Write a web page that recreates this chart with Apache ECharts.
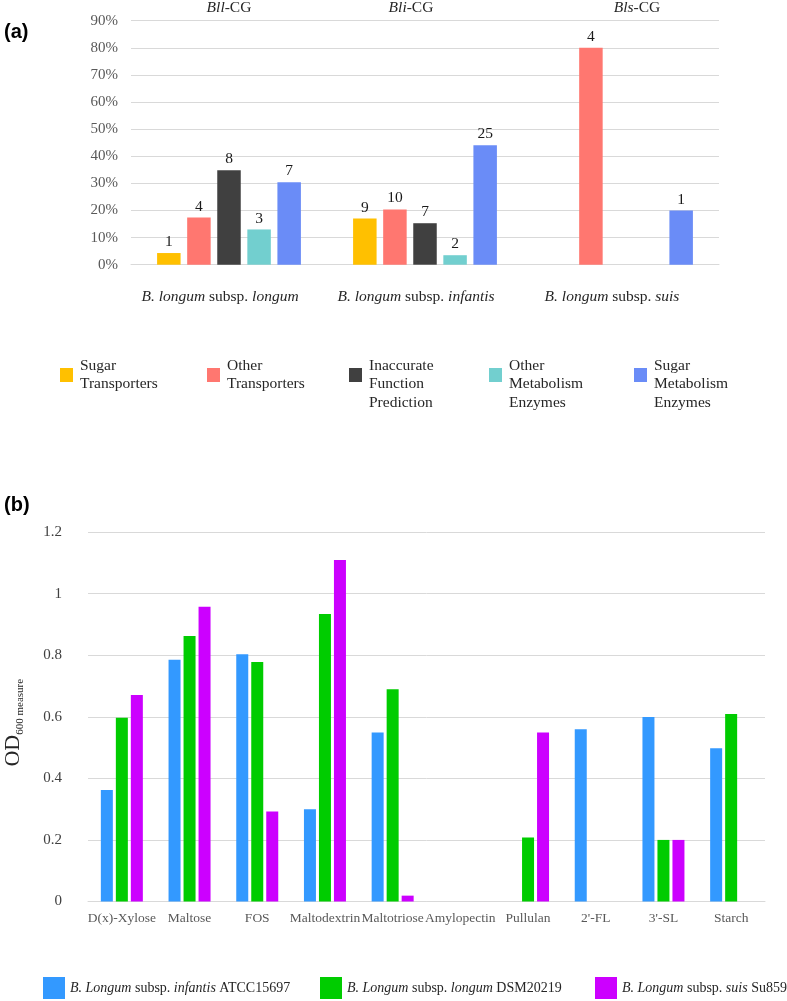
<!DOCTYPE html>
<html>
<head>
<meta charset="utf-8">
<script src="https://cdn.jsdelivr.net/npm/echarts@6/dist/echarts.min.js"></script>
<style>
html,body{margin:0;padding:0;background:#fff;}
#chart{width:787px;height:1001px;}
</style>
</head>
<body>
<div id="chart"></div>
<script>
// ---------- Panel (a) data ----------
const categoriesA = ['B. longum subsp. longum', 'B. longum subsp. infantis', 'B. longum subsp. suis'];
const topLabelsA = ['Bll-CG', 'Bli-CG', 'Bls-CG'];
const seriesNamesA = ['Sugar Transporters', 'Other Transporters', 'Inaccurate Function Prediction', 'Other Metabolism Enzymes', 'Sugar Metabolism Enzymes'];
const sugarTransportersPct = [4.3, 17.0, null];
const otherTransportersPct = [17.4, 20.4, 80.0];
const inaccuratePct = [34.8, 15.3, null];
const otherMetabolismPct = [13.0, 3.5, null];
const sugarMetabolismPct = [30.4, 44.1, 20.0];
const sugarTransportersCount = [1, 9, null];
const otherTransportersCount = [4, 10, 4];
const inaccurateCount = [8, 7, null];
const otherMetabolismCount = [3, 2, null];
const sugarMetabolismCount = [7, 25, 1];
const yTicksA = [0, 10, 20, 30, 40, 50, 60, 70, 80, 90];

// ---------- Panel (b) data ----------
const categoriesB = ['D(x)-Xylose', 'Maltose', 'FOS', 'Maltodextrin', 'Maltotriose', 'Amylopectin', 'Pullulan', "2'-FL", "3'-SL", 'Starch'];
const seriesNamesB = ['B. Longum subsp. infantis ATCC15697', 'B. Longum subsp. longum DSM20219', 'B. Longum subsp. suis Su859'];
const infantisOD = [0.362, 0.785, 0.803, 0.300, 0.549, null, null, 0.559, 0.599, 0.498];
const longumOD = [0.597, 0.862, 0.778, 0.934, 0.689, null, 0.208, null, 0.200, 0.609];
const suisOD = [0.671, 0.957, 0.292, 1.109, 0.019, null, 0.549, null, 0.200, null];
const yTicksB = [0, 0.2, 0.4, 0.6, 0.8, 1, 1.2];

// ---------- styling ----------
const SERIF = 'Liberation Serif';
const colorsA = ['#FFC000', '#FF7770', '#404040', '#72CFCF', '#6A8CF7'];
const colorsB = ['#3399FF', '#00CC00', '#CC00FF'];
const GRID_COLOR = '#d9d9d9';

const pctA = [sugarTransportersPct, otherTransportersPct, inaccuratePct, otherMetabolismPct, sugarMetabolismPct];
const cntA = [sugarTransportersCount, otherTransportersCount, inaccurateCount, otherMetabolismCount, sugarMetabolismCount];
const odB = [infantisOD, longumOD, suisOD];

const legendTextA = {
  'Sugar Transporters': 'Sugar\nTransporters',
  'Other Transporters': 'Other\nTransporters',
  'Inaccurate Function Prediction': '\nInaccurate\nFunction\nPrediction',
  'Other Metabolism Enzymes': '\nOther\nMetabolism\nEnzymes',
  'Sugar Metabolism Enzymes': '\nSugar\nMetabolism\nEnzymes'
};
const legendLeftA = [60, 207, 349, 489, 634];
const legendLeftB = [43, 320, 595];

function richSpecies(s) {
  return s.replace(/^(B\. [Ll]ongum) subsp\. (\w+)(.*)$/, '{i|$1}{n| subsp. }{i|$2}{n|$3}');
}

const legends = [];
seriesNamesA.forEach((nm, k) => {
  const multi = legendTextA[nm].startsWith('\n');
  legends.push({
    data: [nm], left: legendLeftA[k], top: multi ? 338 : 356.5,
    padding: 0, icon: 'rect', itemWidth: 13, itemHeight: 14,
    selectedMode: false,
    formatter: n => legendTextA[n],
    textStyle: { fontFamily: SERIF, fontSize: 15.5, lineHeight: 18.5, color: '#262626', padding: [0, 0, 0, 2] }
  });
});
seriesNamesB.forEach((nm, k) => {
  legends.push({
    data: [nm], left: legendLeftB[k], top: 977,
    padding: 0, icon: 'rect', itemWidth: 22, itemHeight: 22,
    selectedMode: false,
    formatter: n => richSpecies(n),
    textStyle: {
      fontFamily: SERIF, fontSize: 14, color: '#262626',
      rich: {
        i: { fontFamily: SERIF, fontSize: 14, fontStyle: 'italic', color: '#262626' },
        n: { fontFamily: SERIF, fontSize: 14, color: '#262626' }
      }
    }
  });
});

const series = [];
seriesNamesA.forEach((nm, k) => {
  series.push({
    name: nm, type: 'bar', xAxisIndex: 0, yAxisIndex: 0,
    data: pctA[k], barWidth: 23.5, barGap: '28%',
    itemStyle: { color: colorsA[k] },
    label: {
      show: true, position: 'top', distance: 3,
      fontFamily: SERIF, fontSize: 15.5, color: '#1a1a1a',
      formatter: p => (cntA[k][p.dataIndex] == null ? '' : String(cntA[k][p.dataIndex]))
    }
  });
});
seriesNamesB.forEach((nm, k) => {
  series.push({
    name: nm, type: 'bar', xAxisIndex: 2, yAxisIndex: 1,
    data: odB[k], barWidth: 12, barGap: '25%',
    itemStyle: { color: colorsB[k] }
  });
});

const topShift = ['', '', '{l32|}'];

const option = {
  backgroundColor: '#ffffff',
  animation: false,
  title: [
    { text: '(a)', left: 4, top: 22, padding: 0,
      textStyle: { fontFamily: 'Liberation Sans', fontWeight: 'bold', fontSize: 20, color: '#000' } },
    { text: '(b)', left: 4, top: 495, padding: 0,
      textStyle: { fontFamily: 'Liberation Sans', fontWeight: 'bold', fontSize: 20, color: '#000' } }
  ],
  legend: legends,
  grid: [
    { left: 131, right: 68, top: 20.7, height: 244, containLabel: false, outerBoundsMode: 'none' },
    { left: 88, right: 22, top: 532, bottom: 99.5, containLabel: false, outerBoundsMode: 'none' }
  ],
  xAxis: [
    {
      type: 'category', gridIndex: 0, data: categoriesA, position: 'bottom',
      axisLine: { show: true, lineStyle: { color: GRID_COLOR } },
      axisTick: { show: false },
      axisLabel: {
        margin: 24, padding: [0, 18, 0, 0], interval: 0,
        formatter: v => richSpecies(v),
        fontFamily: SERIF, fontSize: 15.5, color: '#262626',
        rich: {
          i: { fontFamily: SERIF, fontSize: 15.5, fontStyle: 'italic', color: '#262626' },
          n: { fontFamily: SERIF, fontSize: 15.5, color: '#262626' }
        }
      }
    },
    {
      type: 'category', gridIndex: 0, data: topLabelsA, position: 'top',
      axisLine: { show: false }, axisTick: { show: false },
      axisLabel: {
        margin: 5, interval: 0,
        formatter: (v, i) => topShift[i] + '{i|' + v.split('-')[0] + '}{n|-' + v.split('-')[1] + '}' + (i === 1 ? '{w28|}' : ''),
        fontFamily: SERIF, fontSize: 15.5, color: '#262626',
        rich: {
          i: { fontFamily: SERIF, fontSize: 15.5, fontStyle: 'italic', color: '#262626' },
          n: { fontFamily: SERIF, fontSize: 15.5, color: '#262626' },
          w28: { width: 28 },
          l32: { width: 32 }
        }
      }
    },
    {
      type: 'category', gridIndex: 1, data: categoriesB,
      axisLine: { show: true, lineStyle: { color: GRID_COLOR } },
      axisTick: { show: false },
      axisLabel: { margin: 10, interval: 0, fontFamily: SERIF, fontSize: 13.5, color: '#595959' }
    }
  ],
  yAxis: [
    {
      type: 'value', gridIndex: 0, min: yTicksA[0], max: yTicksA[yTicksA.length - 1], interval: yTicksA[1] - yTicksA[0],
      axisLine: { show: false }, axisTick: { show: false },
      splitLine: { lineStyle: { color: GRID_COLOR, width: 1 } },
      axisLabel: { margin: 13, formatter: '{value}%', fontFamily: SERIF, fontSize: 15, color: '#595959' }
    },
    {
      type: 'value', gridIndex: 1, min: yTicksB[0], max: yTicksB[yTicksB.length - 1], interval: 0.2,
      axisLine: { show: false }, axisTick: { show: false },
      splitLine: { lineStyle: { color: GRID_COLOR, width: 1 } },
      axisLabel: { margin: 26, fontFamily: SERIF, fontSize: 15, color: '#404040' },
      name: '{a|OD}{b|600 measure}{s|}',
      nameLocation: 'middle', nameGap: 63, nameRotate: 90,
      nameTextStyle: {
        fontFamily: SERIF, color: '#262626',
        rich: {
          a: { fontFamily: SERIF, fontSize: 22, lineHeight: 24, color: '#262626' },
          b: { fontFamily: SERIF, fontSize: 11, lineHeight: 24, color: '#262626', verticalAlign: 'bottom', padding: [0, 0, -1, 0] },
          s: { width: 12 }
        }
      }
    }
  ],
  series: series
};

const chart = echarts.init(document.getElementById('chart'), null, { renderer: 'canvas' });
chart.setOption(option);
</script>
</body>
</html>
